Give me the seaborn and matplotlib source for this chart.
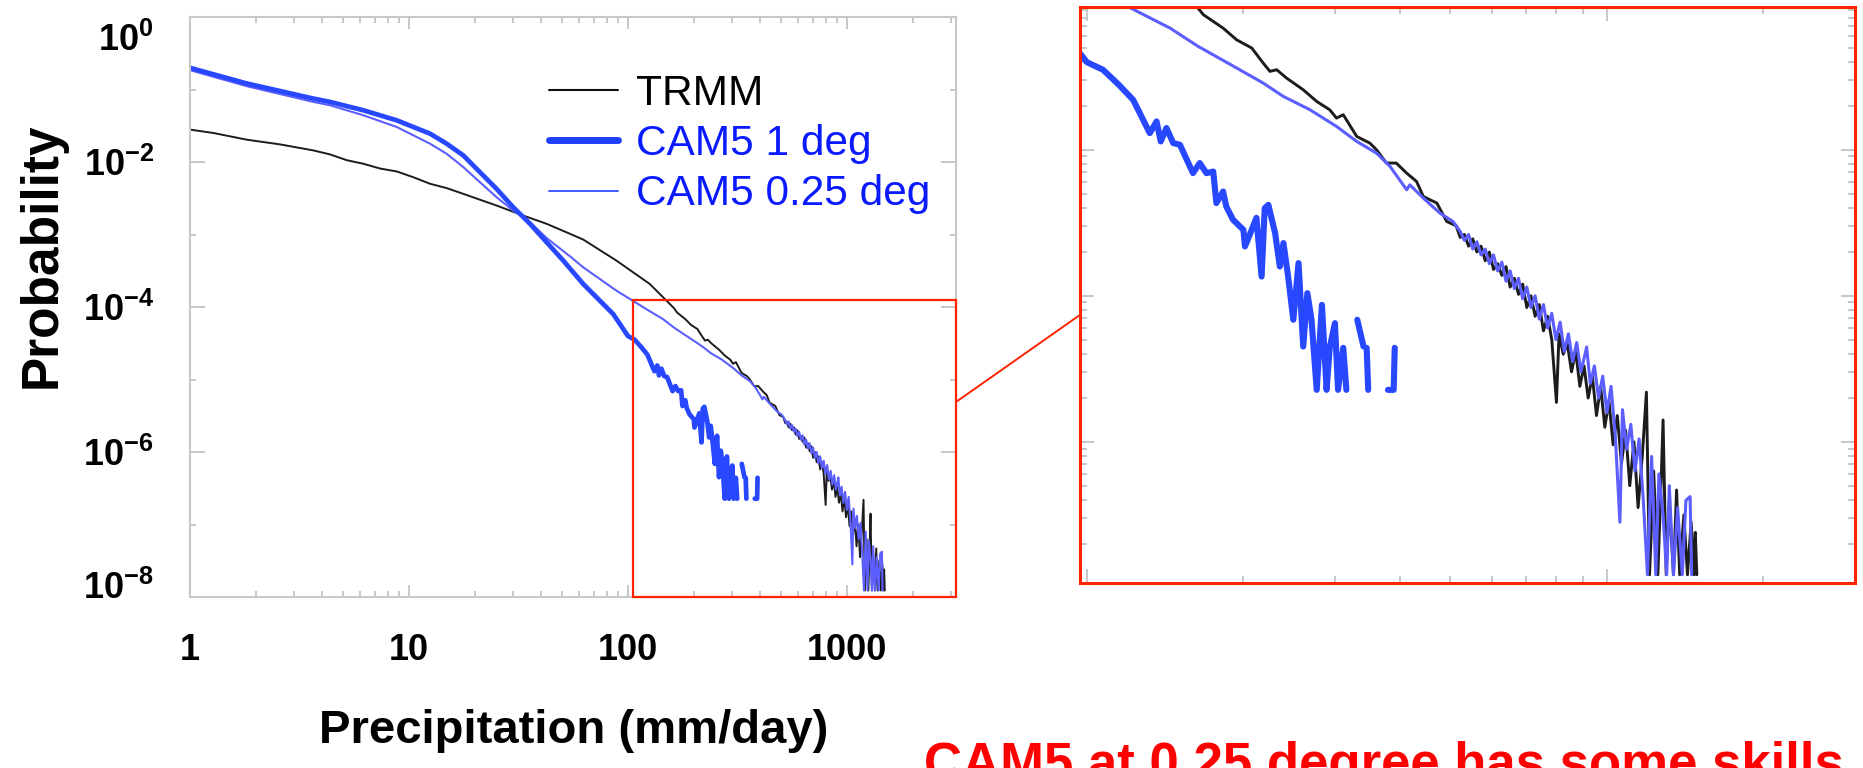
import numpy as np
import pandas as pd
import matplotlib
matplotlib.use("Agg")
import matplotlib.pyplot as plt
import seaborn as sns
from matplotlib.lines import Line2D
from matplotlib.patches import Rectangle, ConnectionPatch
from matplotlib.ticker import FixedLocator, LogLocator, NullFormatter
from matplotlib.transforms import ScaledTranslation

# values as (log10 precip [mm/day], log10 probability)
# (nan, nan) = gap in the line (empty bins)
trmm_points = [
    (0.0, -1.553), (0.107, -1.60), (0.259, -1.692), (0.411, -1.757), (0.563, -1.84),
    (0.639, -1.895), (0.716, -1.975), (0.791, -2.024), (0.868, -2.09), (0.944, -2.13),
    (1.02, -2.21), (1.096, -2.30), (1.172, -2.36), (1.248, -2.439), (1.324, -2.52),
    (1.40, -2.60), (1.522, -2.739), (1.629, -2.853), (1.735, -2.99), (1.796, -3.07),
    (1.948, -3.361), (2.1, -3.683), (2.211, -4.018), (2.224, -4.075), (2.262, -4.167),
    (2.288, -4.247), (2.317, -4.303), (2.339, -4.406), (2.352, -4.463), (2.365, -4.452),
    (2.384, -4.509), (2.416, -4.589), (2.442, -4.669), (2.467, -4.726), (2.48, -4.783),
    (2.493, -4.76), (2.519, -4.909), (2.544, -4.954), (2.557, -5.0), (2.576, -5.091),
    (2.595, -5.091), (2.615, -5.16), (2.634, -5.217), (2.647, -5.32), (2.673, -5.365),
    (2.692, -5.491), (2.71, -5.52), (2.718, -5.60), (2.726, -5.58), (2.734, -5.66),
    (2.742, -5.61), (2.75, -5.70), (2.758, -5.66), (2.766, -5.76), (2.774, -5.70),
    (2.782, -5.82), (2.79, -5.78), (2.798, -5.86), (2.806, -5.80), (2.814, -5.94),
    (2.822, -5.88), (2.83, -5.99), (2.838, -5.92), (2.846, -6.08), (2.854, -6.00),
    (2.862, -6.14), (2.87, -6.06), (2.878, -6.24), (2.886, -6.14), (2.894, -6.30),
    (2.903, -6.73), (2.908, -6.26), (2.916, -6.40), (2.924, -6.33), (2.932, -6.52),
    (2.94, -6.38), (2.948, -6.62), (2.956, -6.48), (2.964, -6.70), (2.972, -6.55),
    (2.98, -6.82), (2.988, -6.62), (2.996, -6.90), (3.004, -6.72), (3.012, -7.02),
    (3.02, -6.82), (3.028, -7.15), (3.036, -6.92), (3.044, -7.30), (3.052, -7.00),
    (3.06, -7.45), (3.068, -7.10), (3.076, -6.66), (3.082, -7.91), (3.09, -7.20),
    (3.098, -7.91), (3.104, -7.30), (3.108, -6.85), (3.114, -7.91), (3.12, -7.40),
    (3.128, -7.91), (3.134, -7.33), (3.14, -7.91), (3.148, -7.50), (3.155, -7.91),
    (3.162, -7.55), (3.168, -7.91), (3.17, -7.62), (3.173, -7.91),
]

cam1_points = [
    (0.0, -0.701), (0.259, -0.917), (0.563, -1.125), (0.639, -1.171), (0.791, -1.286),
    (0.944, -1.425), (1.096, -1.609), (1.172, -1.747), (1.248, -1.909), (1.324, -2.14),
    (1.40, -2.37), (1.476, -2.624), (1.522, -2.76), (1.553, -2.853), (1.629, -3.108),
    (1.705, -3.361), (1.796, -3.683), (1.933, -4.098), (2.0, -4.40), (2.031, -4.452),
    (2.06, -4.55), (2.089, -4.658), (2.121, -4.886), (2.134, -4.806), (2.142, -4.943),
    (2.153, -4.851), (2.166, -4.954), (2.179, -4.966), (2.204, -5.16), (2.217, -5.091),
    (2.23, -5.16), (2.243, -5.149), (2.249, -5.365), (2.262, -5.286), (2.268, -5.388),
    (2.281, -5.479), (2.301, -5.548), (2.304, -5.662), (2.317, -5.548), (2.326, -5.466),
    (2.336, -5.868), (2.342, -5.40), (2.349, -5.377), (2.362, -5.571), (2.371, -5.799),
    (2.378, -5.639), (2.387, -5.868), (2.397, -6.164), (2.407, -5.776), (2.416, -6.347),
    (2.424, -5.982), (2.432, -6.164), (2.442, -6.644), (2.452, -6.062), (2.461, -6.644),
    (2.467, -6.356), (2.477, -6.187), (2.483, -6.644), (2.493, -6.356), (2.499, -6.644),
    (np.nan, np.nan), (2.52, -6.164), (2.532, -6.347),
    (np.nan, np.nan), (2.538, -6.356), (2.541, -6.644),
    (np.nan, np.nan), (2.579, -6.644), (2.59, -6.644), (2.592, -6.356),
]

cam025_points = [
    (0.0, -0.733), (0.259, -0.954), (0.563, -1.171), (0.639, -1.217), (0.791, -1.355),
    (0.944, -1.517), (1.096, -1.747), (1.172, -1.886), (1.248, -2.07), (1.324, -2.278),
    (1.40, -2.485), (1.476, -2.67), (1.522, -2.76), (1.553, -2.83), (1.629, -3.05),
    (1.735, -3.30), (1.796, -3.453), (1.948, -3.776), (2.09, -4.04), (2.16, -4.167),
    (2.214, -4.292), (2.288, -4.44), (2.339, -4.543), (2.378, -4.635), (2.429, -4.726),
    (2.48, -4.84), (2.519, -4.943), (2.557, -5.023), (2.583, -5.114), (2.615, -5.274),
    (2.621, -5.24), (2.647, -5.331), (2.679, -5.434), (2.704, -5.491), (2.71, -5.52),
    (2.718, -5.56), (2.726, -5.62), (2.734, -5.58), (2.742, -5.68), (2.75, -5.63),
    (2.758, -5.72), (2.766, -5.68), (2.774, -5.78), (2.782, -5.72), (2.79, -5.83),
    (2.798, -5.77), (2.806, -5.90), (2.814, -5.83), (2.822, -5.95), (2.83, -5.88),
    (2.838, -6.02), (2.846, -5.94), (2.854, -6.08), (2.862, -6.00), (2.87, -6.16),
    (2.878, -6.06), (2.886, -6.22), (2.894, -6.12), (2.902, -6.30), (2.91, -6.18),
    (2.918, -6.38), (2.926, -6.26), (2.934, -6.45), (2.942, -6.32), (2.95, -6.52),
    (2.958, -6.40), (2.961, -6.35), (2.968, -6.60), (2.976, -6.48), (2.984, -6.70),
    (2.992, -6.55), (3.0, -6.80), (3.008, -6.62), (3.016, -6.95), (3.025, -7.55),
    (3.03, -6.78), (3.038, -7.05), (3.046, -6.88), (3.054, -7.20), (3.062, -6.98),
    (3.07, -7.40), (3.078, -7.91), (3.086, -7.10), (3.094, -7.91), (3.1, -7.22),
    (3.108, -7.50), (3.115, -7.91), (3.12, -7.30), (3.128, -7.91), (3.136, -7.45),
    (3.145, -7.91), (3.152, -7.40), (3.16, -7.375), (3.163, -7.91),
]

series_names = ["TRMM", "CAM5 1 deg", "CAM5 0.25 deg"]
x_ticks = [1, 10, 100, 1000]
x_tick_labels = ["1", "10", "100", "1000"]
y_ticks = [1e-8, 1e-6, 1e-4, 1e-2, 1]
y_tick_labels = [r"$\mathbf{10^{-8}}$", r"$\mathbf{10^{-6}}$", r"$\mathbf{10^{-4}}$",
                 r"$\mathbf{10^{-2}}$", r"$\mathbf{10^{0}}$"]
y_minor_ticks = [1e-7, 1e-5, 1e-3, 1e-1]

# zoom box (main axes) and zoomed panel limits
box_x0, box_y1 = 106, 1.26e-4
main_xlim, main_ylim = (1, 3150), (1e-8, 1)
inset_xlim, inset_ylim = (97, 3000), (1.08e-8, 9.5e-5)

colors = {"TRMM": "#1c1c1c", "CAM5 1 deg": "#2748ff", "CAM5 0.25 deg": "#5c5eff"}
main_lw = {"TRMM": 1.4, "CAM5 1 deg": 3.4, "CAM5 0.25 deg": 1.5}
inset_lw = {"TRMM": 2.1, "CAM5 1 deg": 4.4, "CAM5 0.25 deg": 2.2}
red = "#ff2200"
grey = "#b8b8b8"


def curve_frame(points):
    df = pd.DataFrame(points, columns=["logx", "logp"])
    df["seg"] = df["logp"].isna().cumsum()
    df = df.dropna().copy()
    df["precip"] = 10 ** df["logx"]
    df["prob"] = 10 ** df["logp"]
    return df


frames = {
    "TRMM": curve_frame(trmm_points),
    "CAM5 1 deg": curve_frame(cam1_points),
    "CAM5 0.25 deg": curve_frame(cam025_points),
}

sns.set_theme(style="ticks")
plt.rcParams["font.family"] = ["Liberation Sans", "DejaVu Sans"]
plt.rcParams["mathtext.fontset"] = "custom"
plt.rcParams["mathtext.bf"] = "Liberation Sans:bold"
plt.rcParams["mathtext.rm"] = "Liberation Sans"
plt.rcParams["text.color"] = "black"

W, H = 1863, 768
fig = plt.figure(figsize=(W / 100, H / 100), dpi=100)
ax = fig.add_axes([190 / W, 1 - 597 / H, 766 / W, 580 / H])
axin = fig.add_axes([1080 / W, 1 - 583 / H, 775 / W, 576 / H])

draw_order = ["TRMM", "CAM5 0.25 deg", "CAM5 1 deg"]
for a, widths in ((ax, main_lw), (axin, inset_lw)):
    for name in draw_order:
        sns.lineplot(data=frames[name], x="precip", y="prob", units="seg",
                     estimator=None, sort=False, ax=a, color=colors[name],
                     lw=widths[name], legend=False)
    a.set_xscale("log")
    a.set_yscale("log")
    a.set_xlabel("")
    a.set_ylabel("")

# main axes
ax.set_xlim(*main_xlim)
ax.set_ylim(*main_ylim)
ax.set_xticks(x_ticks, labels=x_tick_labels, fontsize=26, fontweight="bold")
ax.xaxis.set_minor_locator(LogLocator(base=10, subs=np.arange(2, 10)))
ax.xaxis.set_minor_formatter(NullFormatter())
ax.set_yticks(y_ticks, labels=y_tick_labels, fontsize=26)
ax.yaxis.set_minor_locator(FixedLocator(y_minor_ticks))
ax.yaxis.set_minor_formatter(NullFormatter())
ax.tick_params(which="both", direction="in", top=True, right=True, color=grey, width=1.1)
ax.tick_params(axis="x", which="major", length=8.5, pad=26, labelcolor="black")
ax.tick_params(axis="x", which="minor", length=4.3)
ax.tick_params(axis="y", which="major", length=10.5, pad=26, labelcolor="black")
ax.tick_params(axis="y", which="minor", length=4.3)
for sp in ax.spines.values():
    sp.set_color("#c8c8c8")
    sp.set_linewidth(1.5)

ylbls = ax.get_yticklabels()
ylbls[0].set_transform(ylbls[0].get_transform() + ScaledTranslation(0, 0.12, fig.dpi_scale_trans))
ylbls[-1].set_transform(ylbls[-1].get_transform() + ScaledTranslation(0, -0.2, fig.dpi_scale_trans))

ax.add_patch(Rectangle((box_x0, main_ylim[0]), main_xlim[1] - box_x0, box_y1 - main_ylim[0],
                       fill=False, ec=red, lw=1.6, clip_on=False, zorder=5))

# zoomed panel
axin.set_xlim(*inset_xlim)
axin.set_ylim(*inset_ylim)
axin.xaxis.set_major_locator(FixedLocator([100, 1000]))
axin.xaxis.set_minor_locator(LogLocator(base=10, subs=np.arange(2, 10)))
axin.yaxis.set_major_locator(LogLocator(base=10))
axin.yaxis.set_minor_locator(LogLocator(base=10, subs=np.arange(2, 10)))
for axis in (axin.xaxis, axin.yaxis):
    axis.set_major_formatter(NullFormatter())
    axis.set_minor_formatter(NullFormatter())
axin.tick_params(which="both", direction="in", top=True, right=True, color=grey, width=1.1)
axin.tick_params(which="major", length=10)
axin.tick_params(which="minor", length=5)
for sp in axin.spines.values():
    sp.set_color(red)
    sp.set_linewidth(2.2)

con = ConnectionPatch(xyA=(main_xlim[1], 4.9e-6), coordsA=ax.transData,
                      xyB=(inset_xlim[0], 7.4e-7), coordsB=axin.transData,
                      color=red, lw=1.4)
fig.add_artist(con)

# legend
handles = [Line2D([], [], color="#111111", lw=1.5),
           Line2D([], [], color="#1f40ff", lw=5.0),
           Line2D([], [], color="#2f4cff", lw=1.3)]
leg = fig.legend(handles, series_names, loc="upper left",
                 bbox_to_anchor=(549 / W, 1 - 74 / H), frameon=False, fontsize=30.5,
                 handlelength=1.63, handletextpad=0.42, labelspacing=0.24,
                 borderpad=0, borderaxespad=0)
for t, c in zip(leg.get_texts(), ["black", "#0a1aff", "#0a1aff"]):
    t.set_color(c)

fig.text(42 / W, 1 - 255 / H, "Probability", rotation=90, fontsize=37,
         fontweight="bold", ha="center", va="center", color="black")
fig.text(574 / W, 1 - 731 / H, "Precipitation (mm/day)", fontsize=34,
         fontweight="bold", ha="center", va="center", color="black")
fig.text(924 / W, -12 / H, "CAM5 at 0.25 degree has some skills", color="#ff0000",
         fontsize=38, fontweight="bold", ha="left", va="baseline")

fig.savefig("out.png", dpi=100)
